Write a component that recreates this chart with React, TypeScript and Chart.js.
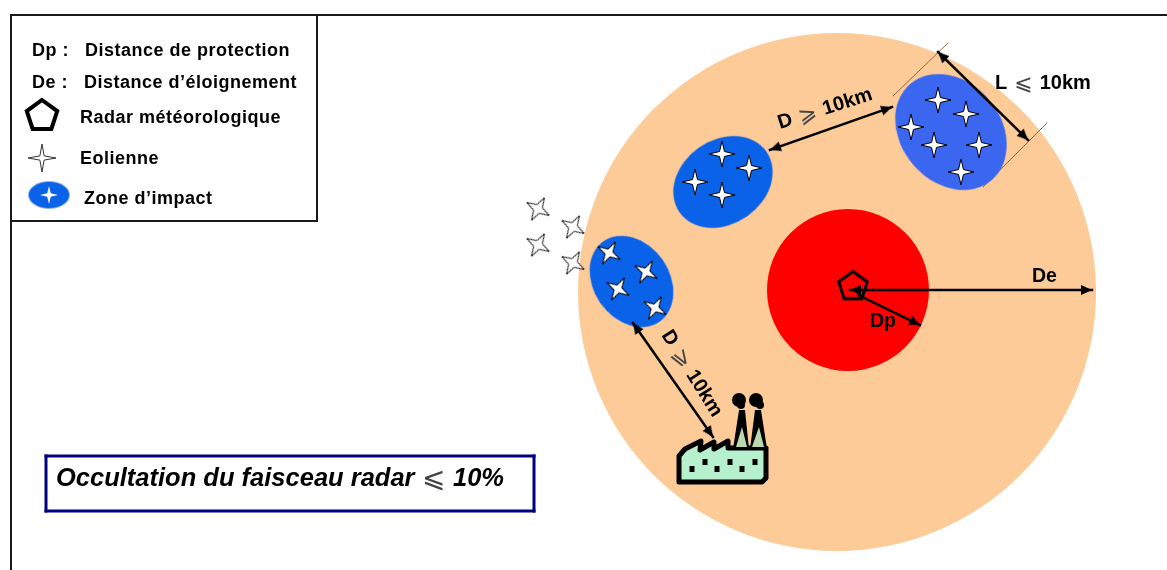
import React, { useEffect, useRef } from "react";
import { Chart, registerables } from "chart.js";

Chart.register(...registerables);

const WIDTH = 1167;
const HEIGHT = 570;

// Disks: protection and exclusion areas
const outerDisk = [{ x: 837, y: 292, r: 259 }];
const innerDisk = [{ x: 848, y: 290, r: 81 }];

// Impact zones [x, y, major, minor, rotation°, colour]
const impactZones: [number, number, number, number, number, string][] = [
  [951, 132, 63, 50, 50, "#3a66f0"],
  [723, 182, 53, 42, -35, "#0a62e8"],
  [631.5, 281.5, 49, 38, 55, "#0a62e8"],
];
const legendZone = [{ x: 49, y: 195 }];

// Wind turbines
const turbinesUpright = [
  [938, 100], [966, 114], [911, 127], [934, 145], [979, 145], [961, 172],
  [722, 154], [749, 168], [695, 182], [722, 195],
];
const turbinesTilted = [[609, 253], [646, 272], [618, 289], [655, 308]];
const turbinesOutside = [[538, 209], [573, 227], [538, 245], [573, 263]];
const legendTurbine = [[42, 158]];
const legendZoneTurbine = [[49, 195]];

// Radars
const radars = [[853, 286.5]];
const legendRadar = [[42, 116]];

// Lines [x1, y1, x2, y2]
const frameLines = [[11, 15, 1167, 15], [11, 15, 11, 570], [317, 15, 317, 221], [11, 221, 317, 221]];
const tangentLines = [[893, 96, 948, 43], [983, 187, 1047, 123]];
const occultationBox = [[46, 456, 534, 456], [534, 456, 534, 511], [534, 511, 46, 511], [46, 511, 46, 456]];

// Arrows [x1, y1, x2, y2, double-headed]
const arrows: [number, number, number, number, boolean][] = [
  [938, 52, 1028, 140, true],
  [770, 150, 892, 107, true],
  [633, 323, 713, 437, true],
  [850, 290, 1092, 290, true],
  [858, 295, 920, 325, false],
];

// Factory
const factoryBody = [
  [679, 482], [679, 456], [685, 449], [701, 441], [700, 450], [714, 442], [714, 449],
  [728, 441], [728, 448], [766, 448], [766, 478], [762, 482],
];
const chimneys = [
  [[733, 449], [739, 410], [745, 410], [749, 449]],
  [[750, 449], [755, 410], [761, 410], [767, 449]],
];
const chimneyGlass = [
  [[736, 447], [747, 447], [742, 427]],
  [[752, 447], [764, 447], [759, 427]],
];
const smoke = [[739, 400, 7], [741, 405, 4], [756, 400, 7], [760, 405, 4]];
const windows = [[692, 469], [705, 462], [717, 469], [730, 462], [742, 469], [755, 462]];

// Texts: [text, x, y] in the legend
const legendTexts: [string, number, number][] = [
  ["Dp :", 32, 56],
  ["Distance de protection", 85, 56],
  ["De :", 32, 88],
  ["Distance d’éloignement", 84, 88],
  ["Radar météorologique", 80, 123],
  ["Eolienne", 80, 164],
  ["Zone d’impact", 84, 204],
];
const plainTexts: [string, number, number][] = [
  ["De", 1032, 282],
  ["Dp", 870, 327],
];
// Mixed labels: [before, sign, after, x, y, angle°]
const signLabels: [string, string, string, number, number, number][] = [
  ["L", "⩽", "10km", 995, 89, 0],
  ["D", "⩾", "10km", 780, 129, -17.5],
  ["D", "⩾", "10km", 661, 335, 58],
];
const occultation = ["Occultation du faisceau radar", "⩽", "10%"];

const SANS = '"Liberation Sans", Arial, sans-serif';
const SIGN = '"DejaVu Sans", sans-serif';

function canvasOf(w: number, h: number, draw: (c: CanvasRenderingContext2D) => void) {
  const cv = document.createElement("canvas");
  cv.width = w;
  cv.height = h;
  const c = cv.getContext("2d")!;
  c.translate(w / 2, h / 2);
  draw(c);
  return cv;
}

function starImage(r: number, inner: number, fill: string, stroke: string | null, lw: number) {
  const s = Math.ceil(2 * r + 6);
  return canvasOf(s, s, (c) => {
    c.beginPath();
    for (let i = 0; i < 8; i++) {
      const a = (i * Math.PI) / 4 - Math.PI / 2;
      const q = i % 2 === 0 ? r : inner;
      c.lineTo(Math.cos(a) * q, Math.sin(a) * q);
    }
    c.closePath();
    c.fillStyle = fill;
    c.fill();
    if (stroke) {
      c.strokeStyle = stroke;
      c.lineWidth = lw;
      c.lineJoin = "miter";
      c.stroke();
    }
  });
}

function ellipseImage(a: number, b: number, color: string) {
  return canvasOf(2 * a + 4, 2 * b + 4, (c) => {
    c.beginPath();
    c.ellipse(0, 0, a, b, 0, 0, 2 * Math.PI);
    c.fillStyle = color;
    c.fill();
  });
}

function pentagonImage(r: number, lw: number) {
  const s = Math.ceil(2 * r + 10);
  return canvasOf(s, s, (c) => {
    c.beginPath();
    for (let i = 0; i < 5; i++) {
      const a = (i * 2 * Math.PI) / 5 - Math.PI / 2;
      c.lineTo(Math.cos(a) * r, Math.sin(a) * r);
    }
    c.closePath();
    c.strokeStyle = "#000";
    c.lineWidth = lw;
    c.lineJoin = "miter";
    c.stroke();
  });
}

// Head whose tip sits on the image centre and which points upward
function headImage(len: number, half: number) {
  const s = 2 * len + 4;
  return canvasOf(s, s, (c) => {
    c.beginPath();
    c.moveTo(0, 0);
    c.lineTo(half, len);
    c.lineTo(-half, len);
    c.closePath();
    c.fillStyle = "#000";
    c.fill();
  });
}

const pts = (a: number[][]) => a.map(([x, y]) => ({ x, y }));

function pointSet(data: { x: number; y: number }[], style: any, rotation = 0) {
  return {
    type: "scatter" as const,
    data,
    showLine: false,
    pointStyle: style,
    pointRotation: rotation,
    pointRadius: 10,
    pointHoverRadius: 10,
    clip: false as const,
  };
}

function lineSet(l: number[], color: string, width: number) {
  return {
    type: "scatter" as const,
    data: [{ x: l[0], y: l[1] }, { x: l[2], y: l[3] }],
    showLine: true,
    borderColor: color,
    borderWidth: width,
    pointRadius: 0,
    clip: false as const,
    borderCapStyle: "square" as const,
  };
}

function poly(c: CanvasRenderingContext2D, x: any, y: any, p: number[][]) {
  c.beginPath();
  p.forEach(([a, b]) => c.lineTo(x.getPixelForValue(a), y.getPixelForValue(b)));
  c.closePath();
}

const artwork = {
  id: "artwork",
  afterDatasetsDraw(chart: any) {
    const c: any = chart.ctx;
    const x = chart.scales.x;
    const y = chart.scales.y;
    c.save();

    // Factory
    poly(c, x, y, factoryBody);
    c.fillStyle = "#b6f0cc";
    c.fill();
    c.strokeStyle = "#000";
    c.lineWidth = 5;
    c.lineJoin = "round";
    c.stroke();
    c.fillStyle = "#000";
    chimneys.forEach((p) => { poly(c, x, y, p); c.fill(); });
    c.fillStyle = "#bcd8b0";
    chimneyGlass.forEach((p) => { poly(c, x, y, p); c.fill(); });
    c.fillStyle = "#000";
    smoke.forEach(([a, b, r]) => {
      c.beginPath();
      c.arc(x.getPixelForValue(a), y.getPixelForValue(b), r, 0, 2 * Math.PI);
      c.fill();
    });
    windows.forEach(([a, b]) => {
      c.fillRect(x.getPixelForValue(a) - 2.5, y.getPixelForValue(b) - 3, 5, 6);
    });

    // Texts
    c.fillStyle = "#000";
    c.textBaseline = "alphabetic";
    c.textAlign = "left";
    c.font = `bold 18px ${SANS}`;
    c.letterSpacing = "0.5px";
    legendTexts.forEach(([t, a, b]) => c.fillText(t, x.getPixelForValue(a), y.getPixelForValue(b)));
    c.letterSpacing = "0px";
    c.font = `bold 19.5px ${SANS}`;
    plainTexts.forEach(([t, a, b]) => c.fillText(t, x.getPixelForValue(a), y.getPixelForValue(b)));

    signLabels.forEach(([before, sign, after, a, b, angle]) => {
      c.save();
      c.translate(x.getPixelForValue(a), y.getPixelForValue(b));
      c.rotate((angle * Math.PI) / 180);
      c.font = `bold 20px ${SANS}`;
      c.fillText(before, 0, 0);
      let px = c.measureText(before).width + 7;
      c.font = `22px ${SIGN}`;
      c.fillStyle = "#444";
      c.fillText(sign, px, 1);
      px += c.measureText(sign).width + 7;
      c.fillStyle = "#000";
      c.font = `bold 20px ${SANS}`;
      c.fillText(after, px, 0);
      c.restore();
    });

    const by = y.getPixelForValue(486);
    c.font = `italic bold 25.5px ${SANS}`;
    c.fillText(occultation[0], x.getPixelForValue(56), by);
    c.font = `28px ${SIGN}`;
    c.fillStyle = "#444";
    c.fillText(occultation[1], x.getPixelForValue(422), by + 1);
    c.fillStyle = "#000";
    c.font = `italic bold 25.5px ${SANS}`;
    c.fillText(occultation[2], x.getPixelForValue(453), by);
    c.restore();
  },
};

export default function App() {
  const ref = useRef<HTMLCanvasElement>(null);

  useEffect(() => {
    const head = headImage(11, 5);
    const turbineWhite = starImage(13, 3.5, "#fff", "#000", 1);
    const turbineTilted = starImage(13, 4, "#fff", "#000", 1);
    const turbineOpen = starImage(13, 4.5, "#fff", "#222", 1);

    const arrowLines = arrows.map((a) => lineSet(a.slice(0, 4) as number[], "#000", 2.5));
    const arrowHeads = arrows.map(([x1, y1, x2, y2, both]) => {
      const deg = (Math.atan2(x2 - x1, y1 - y2) * 180) / Math.PI;
      const data = both ? [{ x: x1, y: y1 }, { x: x2, y: y2 }] : [{ x: x2, y: y2 }];
      const rots = both ? [deg + 180, deg] : [deg];
      return {
        ...pointSet(data, head),
        pointRotation: (ctx: any) => rots[ctx.dataIndex],
      };
    });

    const sets: any[] = [
      {
        type: "bubble",
        data: outerDisk,
        backgroundColor: "#fccb98",
        borderWidth: 0,
        hoverRadius: 0,
        clip: false,
      },
      {
        type: "bubble",
        data: innerDisk,
        backgroundColor: "#ff0000",
        borderWidth: 0,
        hoverRadius: 0,
        clip: false,
      },
      ...tangentLines.map((l) => lineSet(l, "#8a6a40", 1)),
      ...impactZones.map(([x, y, a, b, rot, col]) =>
        pointSet([{ x, y }], ellipseImage(a, b, col), rot)
      ),
      pointSet(legendZone, ellipseImage(20.5, 13.5, "#0a62e8")),
      pointSet(pts(turbinesUpright), turbineWhite),
      pointSet(pts(turbinesTilted), turbineTilted, 30),
      pointSet(pts(turbinesOutside), turbineOpen, 30),
      pointSet(pts(legendTurbine), starImage(14, 3, "#fff", "#333", 1)),
      pointSet(pts(legendZoneTurbine), starImage(9, 2.5, "#fff", null, 0)),
      pointSet(pts(radars), pentagonImage(15, 3)),
      pointSet(pts(legendRadar), pentagonImage(16, 4)),
      ...frameLines.map((l) => lineSet(l, "#1a1a1a", 2)),
      ...occultationBox.map((l) => lineSet(l, "#000080", 3)),
      ...arrowLines,
      ...arrowHeads,
    ];
    sets.forEach((s, i) => { s.order = -i; });

    const chart = new Chart(ref.current!, {
      data: { datasets: sets },
      plugins: [artwork],
      options: {
        animation: false,
        responsive: false,
        devicePixelRatio: 1,
        events: [],
        layout: { padding: 0, autoPadding: false },
        plugins: { legend: { display: false }, tooltip: { enabled: false }, title: { display: false } },
        scales: {
          x: { type: "linear", min: 0, max: WIDTH, display: false },
          y: { type: "linear", min: 0, max: HEIGHT, reverse: true, display: false },
        },
      },
    } as any);
    return () => chart.destroy();
  }, []);

  return (
    <canvas
      ref={ref}
      width={WIDTH}
      height={HEIGHT}
      style={{ position: "absolute", left: 0, top: 0, display: "block", filter: "blur(0.4px)" }}
    />
  );
}
